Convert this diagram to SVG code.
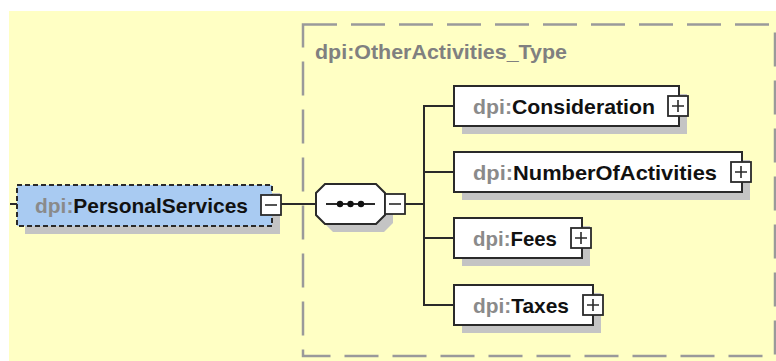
<svg xmlns="http://www.w3.org/2000/svg" width="776" height="361" viewBox="0 0 776 361">
<defs>
<style>
.bg{fill:#FFFFC4}
.frame{fill:none;stroke:#9A9A9A;stroke-width:2.5;stroke-dasharray:34 14}
.shadow{fill:#C4C4C4}
.box{fill:#FFFFFF;stroke:#2A2A2A;stroke-width:2}
.opt{fill:#A9CBF2;stroke:#2A2A2A;stroke-width:2;stroke-dasharray:5 3}
.btn{fill:#FFFFFF;stroke:#2A2A2A;stroke-width:1.8}
.sign{stroke:#2A2A2A;stroke-width:1.6;fill:none}
.conn{stroke:#2A2A2A;stroke-width:2;fill:none}
.lbl{font-family:"Liberation Sans",Arial,sans-serif;font-size:21px;font-weight:bold;fill:#111111}
.pre{fill:#8A8A8A}
.title{font-family:"Liberation Sans",Arial,sans-serif;font-size:21px;font-weight:bold;fill:#808080}
</style>
</defs>
<rect class="bg" x="9" y="11" width="767" height="350"/>
<rect class="frame" x="303" y="24.5" width="472" height="331.5"/>
<text class="title" x="315" y="59" textLength="252" lengthAdjust="spacingAndGlyphs">dpi:OtherActivities_Type</text>

<g id="connectors">
<line class="conn" x1="10" y1="204" x2="17" y2="204"/>
<line class="conn" x1="281" y1="204" x2="316" y2="204"/>
<line class="conn" x1="405" y1="204" x2="424" y2="204"/>
<line class="conn" x1="424" y1="105" x2="424" y2="306"/>
<line class="conn" x1="423" y1="106" x2="454" y2="106"/>
<line class="conn" x1="423" y1="172" x2="454" y2="172"/>
<line class="conn" x1="423" y1="238" x2="454" y2="238"/>
<line class="conn" x1="423" y1="305" x2="454" y2="305"/>
</g>

<g id="PersonalServices">
<rect class="shadow" x="25" y="193" width="255" height="41"/>
<rect class="opt" x="17" y="185" width="255" height="41"/>
<rect class="btn" x="261" y="195" width="20" height="20"/>
<line class="sign" x1="265" y1="205" x2="277" y2="205"/>
<text class="lbl" x="35" y="213" textLength="213" lengthAdjust="spacingAndGlyphs"><tspan class="pre">dpi:</tspan>PersonalServices</text>
</g>

<g id="sequence">
<polygon class="shadow" points="333,192 384,192 393,201 393,223 384,232 333,232 324,223 324,201"/>
<polygon class="box" points="325,184 376,184 385,193 385,215 376,224 325,224 316,215 316,193"/>
<line class="conn" x1="326" y1="204" x2="375" y2="204"/>
<circle cx="340" cy="204" r="3.2" fill="#111"/>
<circle cx="350.5" cy="204" r="3.2" fill="#111"/>
<circle cx="361" cy="204" r="3.2" fill="#111"/>
<rect class="btn" x="385" y="194" width="20" height="20"/>
<line class="sign" x1="389" y1="204" x2="401" y2="204"/>
</g>

<g id="Consideration">
<rect class="shadow" x="462" y="94" width="225" height="40"/>
<rect class="box" x="454" y="86" width="225" height="40"/>
<rect class="btn" x="668" y="96" width="20" height="20"/>
<path class="sign" d="M672 106H684M678 100V112"/>
<text class="lbl" x="473" y="114" textLength="182" lengthAdjust="spacingAndGlyphs"><tspan class="pre">dpi:</tspan>Consideration</text>
</g>

<g id="NumberOfActivities">
<rect class="shadow" x="462" y="160" width="288" height="40"/>
<rect class="box" x="454" y="152" width="288" height="40"/>
<rect class="btn" x="731" y="162" width="20" height="20"/>
<path class="sign" d="M735 172H747M741 166V178"/>
<text class="lbl" x="473" y="180" textLength="244" lengthAdjust="spacingAndGlyphs"><tspan class="pre">dpi:</tspan>NumberOfActivities</text>
</g>

<g id="Fees">
<rect class="shadow" x="462" y="226" width="128" height="40"/>
<rect class="box" x="454" y="218" width="128" height="40"/>
<rect class="btn" x="571" y="228" width="20" height="20"/>
<path class="sign" d="M575 238H587M581 232V244"/>
<text class="lbl" x="473" y="246" textLength="84" lengthAdjust="spacingAndGlyphs"><tspan class="pre">dpi:</tspan>Fees</text>
</g>

<g id="Taxes">
<rect class="shadow" x="462" y="293" width="139" height="40"/>
<rect class="box" x="454" y="285" width="139" height="40"/>
<rect class="btn" x="583" y="295" width="20" height="20"/>
<path class="sign" d="M587 305H599M593 299V311"/>
<text class="lbl" x="473" y="313" textLength="96" lengthAdjust="spacingAndGlyphs"><tspan class="pre">dpi:</tspan>Taxes</text>
</g>
</svg>
